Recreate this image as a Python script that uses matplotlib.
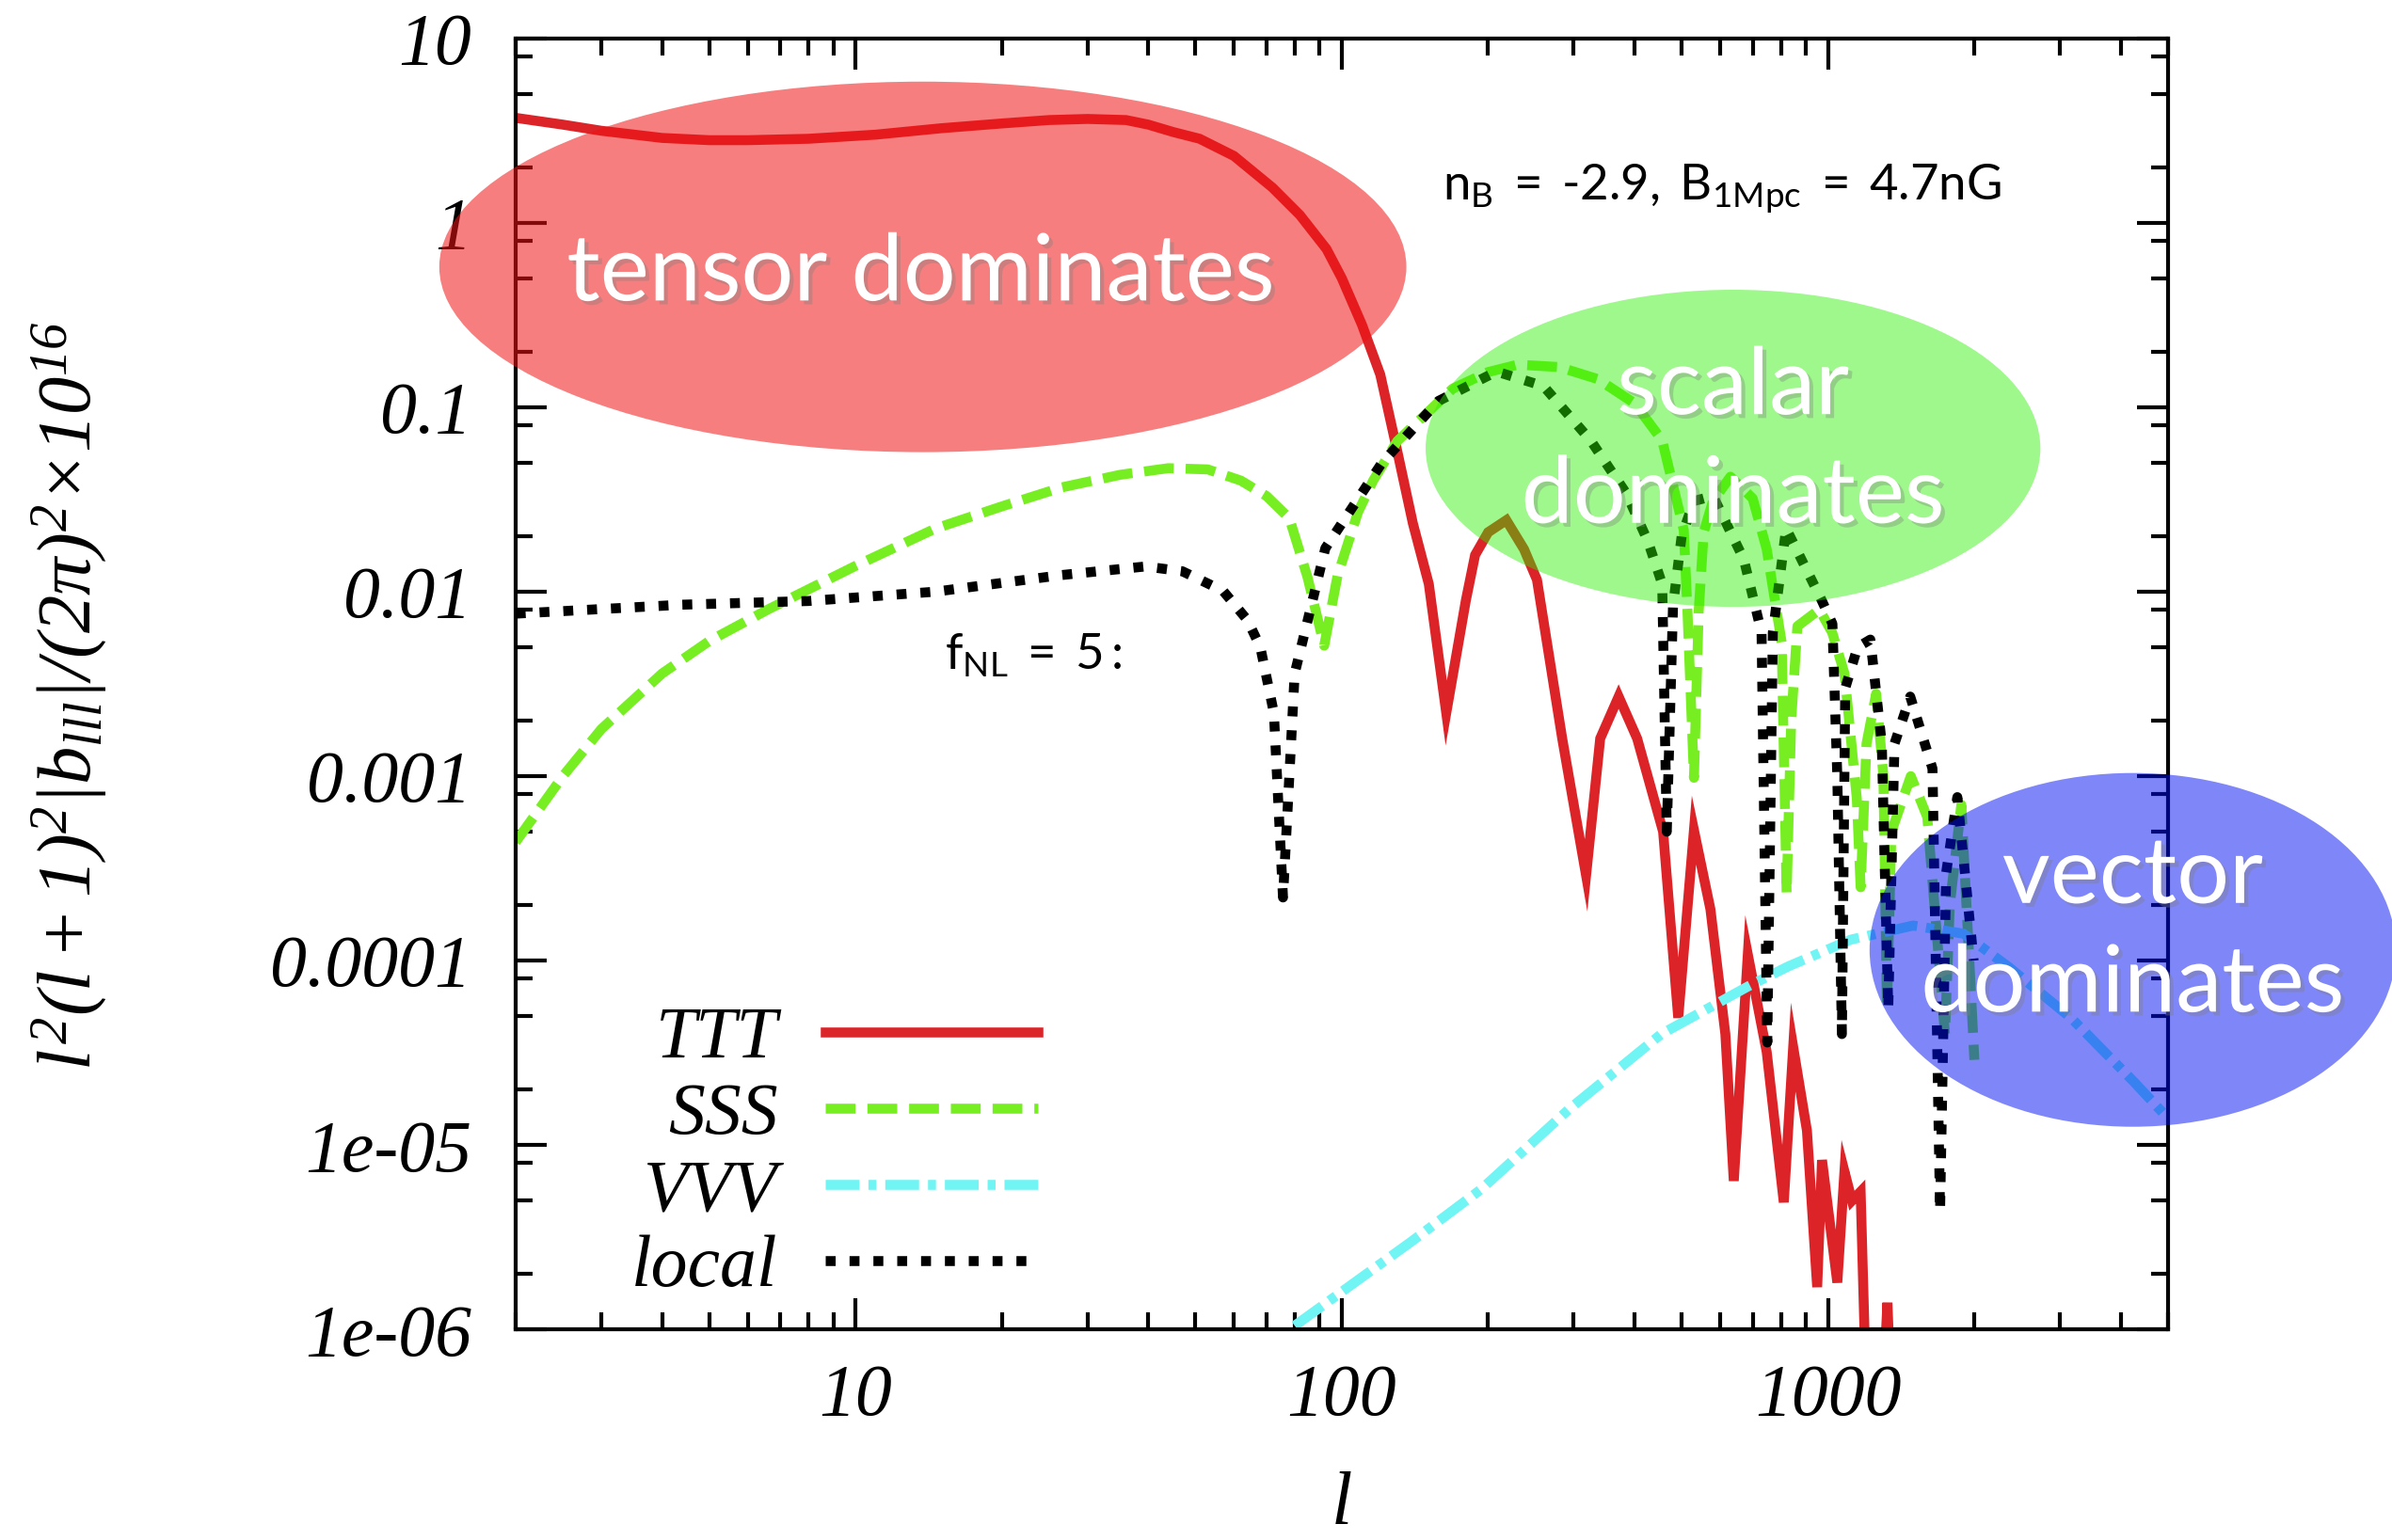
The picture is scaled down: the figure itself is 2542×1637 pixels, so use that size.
import matplotlib
matplotlib.use('Agg')
import matplotlib.pyplot as plt
from matplotlib.patches import Ellipse
from matplotlib.ticker import FixedLocator, FixedFormatter, LogLocator, NullFormatter
import matplotlib.patheffects as pe

plt.rcParams['mathtext.fontset'] = 'custom'
plt.rcParams['mathtext.rm'] = 'Liberation Serif:italic'
plt.rcParams['mathtext.it'] = 'Liberation Serif:italic'
plt.rcParams['mathtext.sf'] = 'Lato'

# ---- data ----
ttt_l = [2, 2.5, 3, 4, 5, 6, 8, 11, 15, 20, 25, 30, 36, 40, 45, 51, 60, 72, 82, 93, 100,
         110, 120, 130, 140, 151, 164, 180, 188, 200, 218, 237, 252, 284, 318, 340, 371,
         405, 458, 492, 530, 573, 615, 640, 684, 748, 811, 848, 905, 950, 972, 1045, 1081,
         1120, 1167, 1197, 1300, 1325, 1345]
ttt_v = [3.7, 3.4, 3.15, 2.88, 2.8, 2.8, 2.85, 3.0, 3.25, 3.45, 3.6, 3.65, 3.6, 3.4, 3.1,
         2.85, 2.3, 1.55, 1.1, 0.72, 0.5, 0.28, 0.15, 0.058, 0.0235, 0.011, 0.0022, 0.009,
         0.0158, 0.021, 0.0244, 0.017, 0.0116, 0.0016, 0.00029, 0.0016, 0.0027, 0.0016,
         0.0005, 4.9e-5, 5.1e-4, 1.9e-4, 4e-5, 6.4e-6, 1.08e-4, 3.2e-5, 4.9e-6, 3.4e-5,
         1.2e-5, 1.7e-6, 8.3e-6, 1.8e-6, 7.2e-6, 5e-6, 5.6e-6, 5e-7, 5e-7, 1.4e-6, 5e-7]

sss_l = [2, 2.5, 3, 4, 5, 6.6, 10, 14.6, 20, 26.5, 35, 44, 53, 62, 70, 78, 85, 92, 98, 108,
         116, 130, 143, 169, 200, 230, 280, 336, 400, 456, 505, 514, 530, 542, 555, 580,
         630, 700, 748, 803, 822, 840, 865, 960, 1020, 1081, 1146, 1167, 1200, 1256, 1300,
         1322, 1350, 1480, 1600, 1740, 1780, 1880, 2000]
sss_v = [4.4e-4, 1.0e-3, 1.8e-3, 3.6e-3, 5.4e-3, 8e-3, 0.0138, 0.022, 0.029, 0.0367, 0.043,
         0.0467, 0.046, 0.040, 0.033, 0.025, 0.012, 5.1e-3, 0.0122, 0.027, 0.040, 0.0654,
         0.083, 0.126, 0.155, 0.17, 0.165, 0.142, 0.105, 0.066, 0.0216, 7.8e-3, 9.8e-4,
         7.8e-3, 0.021, 0.031, 0.042, 0.032, 0.017, 5.3e-3, 2.3e-4, 2e-3, 6.5e-3, 8e-3,
         6e-3, 3.6e-3, 7.6e-4, 2.5e-4, 1.5e-3, 2.8e-3, 1e-3, 5.6e-5, 5e-4, 1e-3, 6e-4,
         4e-5, 2e-4, 7e-4, 2.9e-5]

vvv_l = [80, 139, 194, 292, 454, 688, 828, 1114, 1497, 1900, 2345, 3160, 4260, 5000]
vvv_v = [1.05e-6, 3.0e-6, 5.8e-6, 1.55e-5, 4.0e-5, 7.3e-5, 9.3e-5, 1.3e-4, 1.55e-4,
         1.4e-4, 9.3e-5, 4.9e-5, 2.2e-5, 1.4e-5]

local_l = [2, 4.4, 8, 14.6, 26.5, 39.5, 47, 57, 64, 68, 72.5, 75.7, 80, 92.5, 121, 158,
           208, 260, 325, 385, 426, 456, 466, 480, 500, 530, 580, 671, 730, 750, 770, 820,
           970, 1021, 1045, 1068, 1085, 1150, 1222, 1290, 1330, 1370, 1476, 1640, 1700,
           1750, 1845, 1993]
local_v = [7.6e-3, 8.5e-3, 8.9e-3, 0.0100, 0.0123, 0.0137, 0.0129, 0.0101, 7.0e-3, 5.0e-3,
           2.2e-3, 2.2e-4, 3.6e-3, 0.0172, 0.050, 0.108, 0.156, 0.130, 0.066, 0.034,
           0.0188, 0.011, 5e-4, 8.4e-3, 0.02, 0.031, 0.033, 0.015, 0.006, 3.6e-5, 0.006,
           0.022, 0.009, 6.7e-3, 1e-3, 4e-5, 3e-3, 5e-3, 5.5e-3, 1.5e-3, 5.5e-5, 1.5e-3,
           2.7e-3, 1.1e-3, 4.4e-6, 3e-4, 7.7e-4, 1e-4]

y_ticks = [10, 1, 0.1, 0.01, 0.001, 0.0001, 1e-5, 1e-6]
y_ticklabels = ['10', '1', '0.1', '0.01', '0.001', '0.0001', '1e-05', '1e-06']
x_ticks = [10, 100, 1000]
x_ticklabels = ['10', '100', '1000']

serif = 'Liberation Serif'
sans = 'Lato'

fig = plt.figure(figsize=(12.71, 8.185), dpi=200)
ax = fig.add_axes([0.2156, 0.1366, 0.6907, 0.8386])

lw = 3.8
ax.plot(ttt_l, ttt_v, color='#dc2328', lw=lw, solid_joinstyle='miter', label='TTT')
ax.plot(sss_l, sss_v, color='#77ee22', lw=lw, linestyle=(0, (3.0, 1.2)), label='SSS')
ax.plot(vvv_l, vvv_v, color='#70f4f4', lw=lw, linestyle=(0, (3.4, 0.9, 0.8, 0.9)), label='VVV')
ax.plot(local_l, local_v, color='black', lw=lw, linestyle=(0, (1.0, 1.4)), label='local')

ax.set_xscale('log')
ax.set_yscale('log')
ax.set_xlim(2, 5000)
ax.set_ylim(1e-6, 10)

ax.yaxis.set_major_locator(FixedLocator(y_ticks))
ax.yaxis.set_major_formatter(FixedFormatter(y_ticklabels))
ax.yaxis.set_minor_locator(LogLocator(base=10, subs=[2, 5, 8], numticks=20))
ax.yaxis.set_minor_formatter(NullFormatter())
ax.xaxis.set_major_locator(FixedLocator(x_ticks))
ax.xaxis.set_major_formatter(FixedFormatter(x_ticklabels))
ax.xaxis.set_minor_locator(LogLocator(base=10, subs=range(2, 10), numticks=20))
ax.xaxis.set_minor_formatter(NullFormatter())

for s in ax.spines.values():
    s.set_linewidth(1.5)
ax.tick_params(which='both', direction='in', top=True, right=True, width=1.5)
ax.tick_params(which='major', length=12)
ax.tick_params(which='minor', length=6.5)
ax.tick_params(axis='y', which='major', pad=17, labelsize=28)
ax.tick_params(axis='x', which='major', pad=13, labelsize=28)
for t in ax.get_xticklabels() + ax.get_yticklabels():
    t.set_fontfamily(serif)
    t.set_fontstyle('italic')

ax.set_xlabel('l', fontfamily=serif, fontstyle='italic', fontsize=29)
ax.xaxis.set_label_coords(0.5, -0.11)
fig.text(0.029, 0.548,
         r'$l^{2}(l+1)^{2}|b_{lll}|/(2\pi)^{2}{\times}10^{16}$',
         rotation=90, ha='center', va='center', fontsize=29)

leg = ax.legend(loc='center', bbox_to_anchor=(0.349, 0.2505), bbox_transform=fig.transFigure,
                frameon=False, markerfirst=False, handlelength=2.9, handletextpad=0.65,
                labelspacing=0.12, borderpad=0,
                prop={'family': serif, 'style': 'italic', 'size': 28})

fig.text(0.603, 0.878,
         '$\\mathsf{n_{B}\\ =\\ {\u2010}2.9,\\ B_{1Mpc}\\ =\\ 4.7nG}$',
         fontsize=19, ha='left', va='center')
fig.text(0.395, 0.574, r'$\mathsf{f_{NL}\ =\ 5:}$', fontsize=19, ha='left', va='center')

# highlight ellipses
blobs = [
    ((0.3858, 0.8267), 0.4043, 0.2406, (240/255, 20/255, 20/255), 0.55),
    ((0.7245, 0.7089), 0.2570, 0.2059, (40/255, 240/255, 0.0), 0.45),
    ((0.8916, 0.3832), 0.2200, 0.2297, (0.0, 15/255, 240/255), 0.5),
]
for c, w, h, col, a in blobs:
    fig.patches.append(Ellipse(c, w, h, transform=fig.transFigure, facecolor=col,
                               alpha=a, edgecolor='none', zorder=5))

shadow = [pe.withSimplePatchShadow(offset=(1.5, -1.5), shadow_rgbFace='gray', alpha=0.35)]
fig.text(0.385, 0.822, 'tensor dominates', fontfamily=sans, fontsize=35.5, color='white',
         ha='center', va='center', zorder=6, path_effects=shadow)
fig.text(0.7245, 0.7129, 'scalar\ndominates', fontfamily=sans, fontsize=35.5, color='white',
         ha='center', va='center', linespacing=1.35, zorder=6, path_effects=shadow)
fig.text(0.8916, 0.3955, 'vector\ndominates', fontfamily=sans, fontsize=35.5, color='white',
         ha='center', va='center', linespacing=1.35, zorder=6, path_effects=shadow)

fig.savefig('out.png', dpi=200)
